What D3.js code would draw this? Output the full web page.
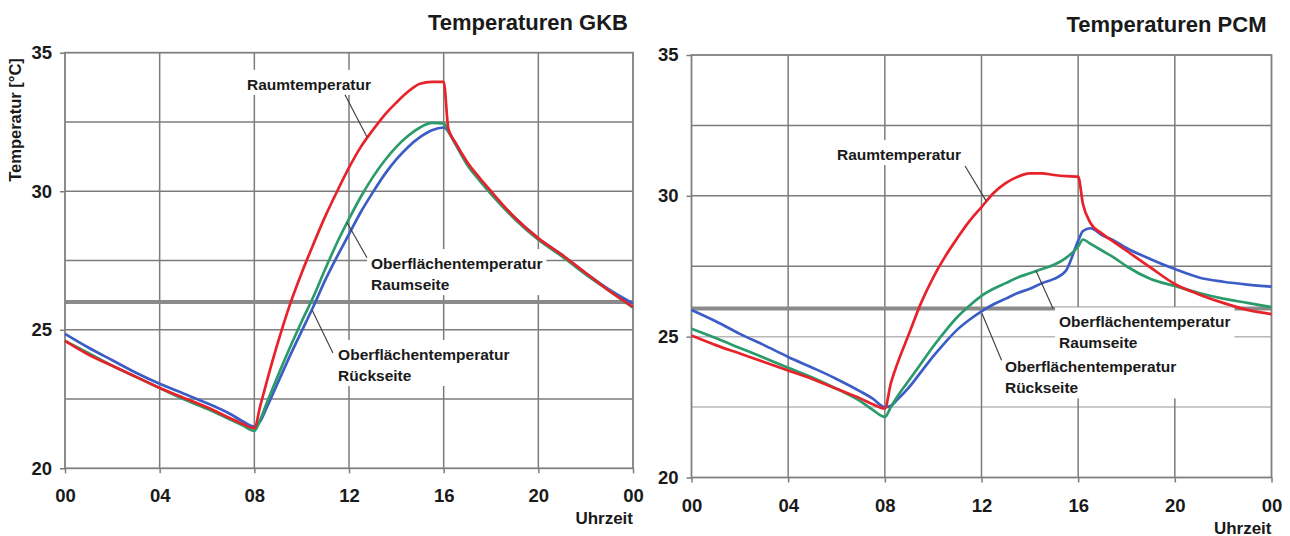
<!DOCTYPE html>
<html>
<head>
<meta charset="utf-8">
<script src="https://cdn.jsdelivr.net/npm/d3@7"></script>
<style>
  body { margin: 0; background: #fff; }
  svg { display: block; font-family: "Liberation Sans", Arial, sans-serif; font-weight: bold; }
</style>
</head>
<body>
<svg id="chart" width="1290" height="536"></svg>
<script>
// Hour of day, shared x values for every series
const hours = [0, 1, 2, 3, 4, 5, 6, 7, 7.5, 8, 8.25, 8.5, 9, 9.5, 10, 10.5, 11, 11.5, 12, 12.5,
  13, 13.5, 14, 14.5, 15, 15.5, 16, 16.2, 16.5, 17, 17.5, 18, 19, 20, 21, 22, 23, 24];

// GKB (gypsum board) temperatures [°C]
const gkbRaum = [24.6, 24.1, 23.7, 23.3, 22.9, 22.55, 22.2, 21.8, 21.6, 21.45, 22.25, 23.05, 24.55, 25.9,
  27.05, 28.1, 29.1, 30.0, 30.85, 31.6, 32.2, 32.75, 33.2, 33.6, 33.88, 33.95, 33.95, 32.25, 31.75,
  31.05, 30.5, 30.0, 29.05, 28.3, 27.7, 27.05, 26.4, 25.83];
const gkbRaumseite = [24.6, 24.15, 23.7, 23.3, 22.9, 22.5, 22.15, 21.75, 21.55, 21.35, 21.75, 22.3, 23.35,
  24.35, 25.3, 26.2, 27.2, 28.15, 29.0, 29.8, 30.5, 31.1, 31.6, 32.0, 32.3, 32.47, 32.45, 32.15,
  31.7, 30.95, 30.4, 29.9, 29.0, 28.25, 27.65, 27.0, 26.4, 25.8];
const gkbRueckseite = [24.85, 24.35, 23.9, 23.45, 23.05, 22.7, 22.35, 21.95, 21.7, 21.5, 21.7, 22.15, 23.1,
  24.05, 24.95, 25.85, 26.8, 27.65, 28.45, 29.25, 29.95, 30.6, 31.15, 31.6, 31.95, 32.2, 32.3, 32.15,
  31.7, 31.0, 30.45, 29.95, 29.05, 28.3, 27.7, 27.05, 26.45, 25.95];

// PCM temperatures [°C]
const pcmRaum = [25.04, 24.7, 24.4, 24.1, 23.8, 23.5, 23.15, 22.8, 22.6, 22.45, 23.35, 24.0, 25.1, 26.2,
  27.1, 27.85, 28.5, 29.1, 29.6, 30.1, 30.45, 30.68, 30.8, 30.8, 30.74, 30.7, 30.68, 29.7, 29.05,
  28.65, 28.35, 28.05, 27.45, 26.87, 26.5, 26.2, 25.95, 25.8];
const pcmRaumseite = [25.28, 24.95, 24.6, 24.25, 23.9, 23.55, 23.15, 22.7, 22.4, 22.15, 22.5, 22.85, 23.45,
  24.05, 24.65, 25.2, 25.7, 26.1, 26.45, 26.7, 26.9, 27.1, 27.25, 27.4, 27.55, 27.8, 28.2, 28.45,
  28.3, 28.05, 27.8, 27.5, 27.05, 26.8, 26.55, 26.35, 26.2, 26.05];
const pcmRueckseite = [25.95, 25.55, 25.1, 24.7, 24.28, 23.9, 23.5, 23.05, 22.8, 22.5, 22.55, 22.75, 23.2,
  23.75, 24.3, 24.8, 25.25, 25.6, 25.9, 26.15, 26.35, 26.55, 26.7, 26.9, 27.05, 27.35, 28.4, 28.75,
  28.85, 28.6, 28.4, 28.15, 27.75, 27.4, 27.1, 26.95, 26.85, 26.78];

// Axis ticks and grid
const xTickValues = [0, 4, 8, 12, 16, 20, 24];
const xTickLabels = ["00", "04", "08", "12", "16", "20", "00"];
const yTickValues = [20, 25, 30, 35];
const gridHours = [4, 8, 12, 16, 20];
const gridTemps = [22.5, 25, 27.5, 30, 32.5];
const referenceTemp = 26;

const colors = { raum: "#e8222a", raumseite: "#2b9b6c", rueckseite: "#3c5cc6" };

const panels = [
  {
    title: "Temperaturen GKB",
    left: 65, right: 633, top: 52.7, bottom: 468.3,
    yLabel: "Temperatur [°C]",
    lightGrid: [],
    series: [
      { values: gkbRueckseite, color: colors.rueckseite },
      { values: gkbRaumseite, color: colors.raumseite },
      { values: gkbRaum, color: colors.raum }
    ],
    notes: [
      { lines: ["Raumtemperatur"], at: [7.69, 33.66], leader: [[11.83, 33.48], [12.76, 31.96]] },
      { lines: ["Oberflächentemperatur", "Raumseite"], at: [12.93, 27.19], leader: [[11.92, 28.86], [12.76, 27.6]] },
      { lines: ["Oberflächentemperatur", "Rückseite"], at: [11.54, 23.91], leader: [[10.44, 25.71], [11.32, 24.16]] }
    ]
  },
  {
    title: "Temperaturen PCM",
    left: 691.5, right: 1271.5, top: 55, bottom: 477.5,
    yLabel: null,
    lightGrid: [22.5, 25],
    series: [
      { values: pcmRueckseite, color: colors.rueckseite },
      { values: pcmRaumseite, color: colors.raumseite },
      { values: pcmRaum, color: colors.raum }
    ],
    notes: [
      { lines: ["Raumtemperatur"], at: [6.02, 31.27], leader: [[11.32, 31.06], [12.19, 29.82]] },
      { lines: ["Oberflächentemperatur", "Raumseite"], at: [15.21, 25.33], leader: [[14.25, 27.35], [14.96, 26.0]] },
      { lines: ["Oberflächentemperatur", "Rückseite"], at: [12.97, 23.73], leader: [[12.02, 25.82], [12.83, 24.16]] }
    ]
  }
];

const svg = d3.select("#chart");

panels.forEach(p => {
  const x = d3.scaleLinear().domain([0, 24]).range([p.left, p.right]);
  const y = d3.scaleLinear().domain([20, 35]).range([p.bottom, p.top]);
  const g = svg.append("g");

  // Grid lines
  g.append("g").selectAll("line")
    .data(gridTemps)
    .join("line")
    .attr("x1", p.left).attr("x2", p.right)
    .attr("y1", d => y(d)).attr("y2", d => y(d))
    .attr("stroke", d => p.lightGrid.includes(d) ? "#b8b8b8" : "#7c7c7c")
    .attr("stroke-width", 1.5);
  g.append("g").selectAll("line")
    .data(gridHours)
    .join("line")
    .attr("x1", d => x(d)).attr("x2", d => x(d))
    .attr("y1", p.top).attr("y2", p.bottom)
    .attr("stroke", "#7c7c7c")
    .attr("stroke-width", 1.5);

  // 26 °C reference line
  g.append("line")
    .attr("x1", x(0)).attr("x2", x(24))
    .attr("y1", y(referenceTemp)).attr("y2", y(referenceTemp))
    .attr("stroke", "#8a8a8a")
    .attr("stroke-width", 4);

  const boxLayer = g.append("g");

  // Frame
  g.append("rect")
    .attr("x", p.left).attr("y", p.top)
    .attr("width", p.right - p.left).attr("height", p.bottom - p.top)
    .attr("fill", "none")
    .attr("stroke", "#808080")
    .attr("stroke-width", 1.8);

  // Series
  const line = d3.line()
    .x((d, i) => x(hours[i]))
    .y(d => y(d))
    .curve(d3.curveMonotoneX);
  g.append("g")
    .attr("fill", "none")
    .attr("stroke-width", 2.7)
    .attr("stroke-linejoin", "round")
    .selectAll("path")
    .data(p.series)
    .join("path")
    .attr("stroke", d => d.color)
    .attr("d", d => line(d.values));

  // Annotations with leader lines
  p.notes.forEach(n => {
    g.append("line")
      .attr("x1", x(n.leader[0][0])).attr("y1", y(n.leader[0][1]))
      .attr("x2", x(n.leader[1][0])).attr("y2", y(n.leader[1][1]))
      .attr("stroke", "#3a3a3a")
      .attr("stroke-width", 1.1);
    const t = g.append("text")
      .attr("x", x(n.at[0])).attr("y", y(n.at[1]))
      .attr("font-size", 15.5)
      .attr("fill", "#1a1a1a");
    t.selectAll("tspan")
      .data(n.lines)
      .join("tspan")
      .attr("x", x(n.at[0]))
      .attr("dy", (d, i) => i === 0 ? 0 : 21)
      .text(d => d);
    const b = t.node().getBBox();
    boxLayer.append("rect")
      .attr("x", b.x - 4).attr("y", b.y - 6)
      .attr("width", b.width + 8).attr("height", b.height + 8)
      .attr("fill", "#fff");
  });

  // Axes
  const yAxis = g.append("g")
    .attr("transform", `translate(${p.left},0)`)
    .call(d3.axisLeft(y).tickValues(yTickValues).tickSize(5).tickPadding(8).tickFormat(d3.format("d")));
  const xAxis = g.append("g")
    .attr("transform", `translate(0,${p.bottom})`)
    .call(d3.axisBottom(x).tickValues(xTickValues).tickSize(5).tickPadding(16).tickFormat((d, i) => xTickLabels[i]));
  [yAxis, xAxis].forEach(a => {
    a.select(".domain").remove();
    a.attr("font-family", null).attr("font-size", 18.5);
    a.selectAll(".tick line").attr("stroke", "#7c7c7c").attr("stroke-width", 1.5);
    a.selectAll(".tick text").attr("fill", "#1a1a1a");
  });

  // Titles and axis labels
  g.append("text")
    .attr("x", p.right - 5).attr("y", p.top - 23)
    .attr("text-anchor", "end")
    .attr("font-size", 22)
    .attr("fill", "#1a1a1a")
    .text(p.title);
  g.append("text")
    .attr("x", p.right).attr("y", p.bottom + 56)
    .attr("text-anchor", "end")
    .attr("font-size", 17)
    .attr("fill", "#1a1a1a")
    .text("Uhrzeit");
  if (p.yLabel) {
    g.append("text")
      .attr("transform", `translate(21,${(y(35) + y(30)) / 2 - 2}) rotate(-90)`)
      .attr("text-anchor", "middle")
      .attr("font-size", 16.5)
      .attr("fill", "#1a1a1a")
      .text(p.yLabel);
  }
});
</script>
</body>
</html>
